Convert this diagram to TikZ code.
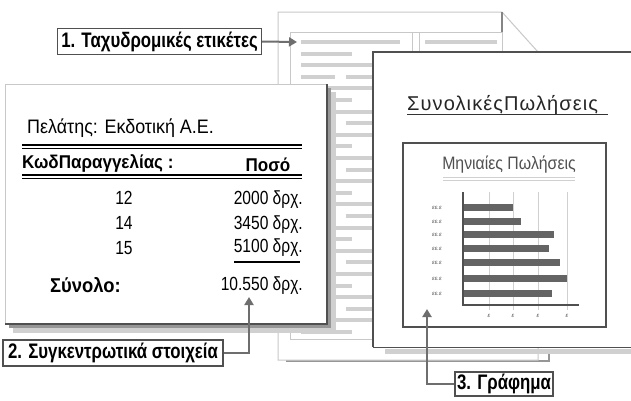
\documentclass[tikz,border=0pt]{standalone}
\usepackage{fontspec}
\setmainfont{Liberation Sans}
\newfontfamily\labfont[FakeStretch=0.8]{Liberation Sans}
\newfontfamily\repfont[FakeStretch=0.92]{Liberation Sans}
\newfontfamily\numfont[FakeStretch=0.82]{Liberation Sans}
\newfontfamily\titfont[LetterSpace=5.5]{Liberation Sans}
\newfontfamily\chfont[FakeStretch=0.88]{Liberation Sans}
\usetikzlibrary{arrows.meta}
\definecolor{lightln}{RGB}{208,208,208}
\definecolor{pagebd}{RGB}{200,200,200}
\definecolor{darkbd}{RGB}{80,80,80}
\definecolor{barc}{RGB}{100,100,100}
\definecolor{connc}{RGB}{110,110,110}
\definecolor{shad}{RGB}{150,150,150}
\begin{document}
\begin{tikzpicture}[x=1pt,y=-1pt,
  labelbox/.style={draw=darkbd, line width=1.2pt, fill=white, inner sep=0pt,
    minimum height=26pt, font=\labfont\bfseries\fontsize{21}{23}\selectfont},
  connector/.style={draw=connc, line width=2pt, -{Triangle[length=8pt,width=9pt]}},
  lbar/.style={draw=lightln, line width=4pt},
  reptext/.style={font=\repfont\fontsize{19.5}{21}\selectfont, inner sep=0pt},
  repbold/.style={font=\repfont\bfseries\fontsize{18.5}{20}\selectfont, inner sep=0pt},
  numtext/.style={font=\numfont\fontsize{19}{21}\selectfont, inner sep=0pt},
  tiny/.style={font=\itshape\fontsize{6}{6}\selectfont, text=darkbd, inner sep=0pt}]
\useasboundingbox (0,0) rectangle (631,400);
\fill[white] (0,0) rectangle (631,400);

% ---------- page A (back) ----------
\draw[shad, line width=2pt] (286,361) -- (549,361) -- (549,352);
\filldraw[fill=white, draw=pagebd, line width=1pt]
  (278,360) -- (278,12) -- (502,12) -- (538,52) -- (538,360) -- cycle;
\draw[darkbd!70, line width=1.5pt] (502,12) -- (502,52);

% ---------- page B (labels) ----------
\filldraw[fill=white, draw=pagebd, line width=1pt] (290,339) -- (290,32) -- (502,32) -- (502,339) -- cycle;
\draw[pagebd, line width=1pt] (412,32) -- (412,339) (419,32) -- (419,339);
\foreach \k in {0,...,25}{
  \pgfmathsetmacro{\yy}{42+11.6*\k}
  \pgfmathtruncatemacro{\m}{mod(\k,4)}
  \ifcase\m
    \draw[lbar] (301,\yy) -- (400,\yy) (425,\yy) -- (497,\yy);
  \or
    \draw[lbar] (301,\yy) -- (352,\yy) (425,\yy) -- (470,\yy);
  \or
    \draw[lbar] (301,\yy) -- (400,\yy) (425,\yy) -- (497,\yy);
  \or
    \draw[lbar] (301,\yy) -- (335,\yy) (346,\yy) -- (400,\yy) (425,\yy) -- (455,\yy) (462,\yy) -- (497,\yy);
  \fi
}

% ---------- report page ----------
\fill[lightln] (13,92) rectangle (336,333);
\fill[shad] (9,88) rectangle (331,328);
\fill[white] (5,84) rectangle (327,324);
\draw[pagebd, line width=1pt] (5,324) -- (5,84) -- (327,84);
\draw[darkbd, line width=2pt] (327,84) -- (327,324) -- (5,324);

\node[reptext, anchor=base west] (cust) at (27,133) {Πελάτης: Εκδοτική Α.Ε.};
\draw[black, line width=1.3pt] (22,145) -- (302,145) (22,148.5) -- (302,148.5);
\node[repbold, anchor=base west] (hcode) at (22,168) {ΚωδΠαραγγελίας :};
\node[repbold, anchor=base] (hamt) at (268,171) {Ποσό};
\draw[black, line width=1.3pt] (22,175) -- (302,175) (22,178.5) -- (302,178.5);
\node[numtext, anchor=base] (c1) at (124,204) {12};
\node[numtext, anchor=base] (c2) at (124,229) {14};
\node[numtext, anchor=base] (c3) at (124,254) {15};
\node[numtext, anchor=base east] (a1) at (303,204) {2000 δρχ.};
\node[numtext, anchor=base east] (a2) at (303,229) {3450 δρχ.};
\node[numtext, anchor=base east] (a3) at (303,252) {5100 δρχ.};
\draw[black, line width=1.2pt] (234,262) -- (300,262);
\node[repbold, anchor=base west, font=\repfont\bfseries\fontsize{20}{22}\selectfont] (tot) at (50,292) {Σύνολο:};
\node[numtext, anchor=base east] (atot) at (303,290) {10.550 δρχ.};

% ---------- chart page ----------
\fill[lightln] (385,349) rectangle (631,354);
\fill[white] (373,52) rectangle (640,347);
\draw[darkbd, line width=1.5pt] (373,347) -- (373,52) -- (640,52);
\draw[darkbd, line width=1pt] (373,347) -- (640,347);

\node[font=\titfont\fontsize{20}{22}\selectfont, text=black!85, anchor=base west, inner sep=0pt] (ctitle) at (407,110) {ΣυνολικέςΠωλήσεις};
\draw[black!80, line width=1.3pt] (407,114.5) -- (608,114.5);

\draw[darkbd, line width=1.6pt] (403,143) rectangle (606,327);
\node[font=\chfont\fontsize{18}{20}\selectfont, text=darkbd, anchor=base, inner sep=0pt] (stitle) at (509,169) {Μηνιαίες Πωλήσεις};
\draw[lightln, line width=1pt] (443,177) -- (575,177) (443,180) -- (575,180);

\foreach \gx in {489,513,538,567}{
  \draw[lightln, line width=1pt] (\gx,192) -- (\gx,310);
  \node[tiny] at (\gx,316) {ε};
}
\foreach \yy/\len in {207/513,221/521,234/554,248/549,262/560,278/567,293/552}{
  \fill[barc] (463,\yy-3.5) rectangle (\len,\yy+3.5);
  \node[tiny] at (437,\yy+1) {εε.ε};
}
\draw[darkbd, line width=1.5pt] (463,192) -- (463,305) -- (579,305);

% ---------- labels and connectors ----------
\node[labelbox, minimum width=204pt] (l1) at (159.5,41.5) {1. Ταχυδρομικές ετικέτες};
\node[labelbox, minimum width=220pt] (l2) at (113,353) {2. Συγκεντρωτικά στοιχεία};
\node[labelbox, minimum width=98pt, minimum height=24pt] (l3) at (504,384) {3. Γράφημα};

\coordinate (pB) at (297,42);
\coordinate (t2) at (249,297);
\coordinate (t3) at (427,309);
\draw[connector] (l1.east) -- (pB);
\draw[connector] (l2.east) -| (t2);
\draw[connector] (l3.west) -| (t3);
\end{tikzpicture}
\end{document}
